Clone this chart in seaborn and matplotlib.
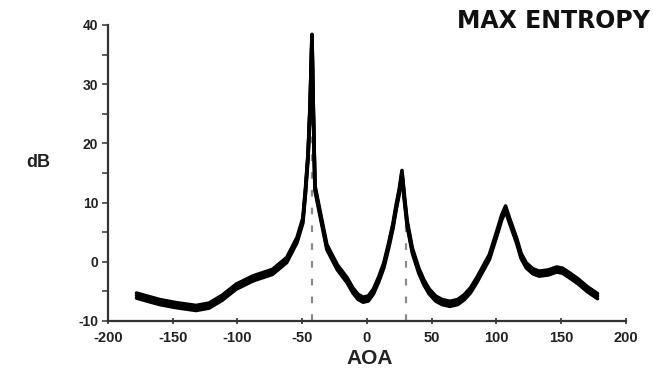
import matplotlib
matplotlib.use("Agg")
import matplotlib.pyplot as plt
import matplotlib.patheffects as pe
import seaborn as sns
import pandas as pd

# Maximum-entropy spatial spectrum (dB) versus angle of arrival (degrees)
aoa = [-178, -170, -160, -148, -132, -122, -112, -101, -88, -73, -62, -54,
       -49.5, -47.5, -45.5, -44, -42.5, -41.5, -40.2, -36.3, -31, -23, -15.4,
       -11, -7, -3, 1, 5, 9, 13, 17, 20, 22.5, 25, 27, 29, 31, 35,
       40, 44, 48, 53, 58, 64, 70, 75, 80, 85, 90, 94.5, 101, 104, 107, 110,
       115.5, 119, 123, 128, 133, 140, 146.5, 151, 156.5, 163, 170, 178]
db = [-5.7, -6.2, -6.8, -7.3, -7.8, -7.4, -6.1, -4.2, -2.8, -1.7, 0.3, 3.7,
      7.0, 12.0, 18.0, 26.0, 38.0, 26.0, 12.5, 8.2, 2.5, -0.9, -3.1,
      -4.8, -5.9, -6.4, -6.2, -5.0, -3.0, -0.6, 3.0, 6.0, 9.2, 12.0, 15.0, 10.5, 6.5, 1.9,
      -1.5, -3.5, -5.0, -6.2, -6.8, -7.1, -6.8, -6.0, -4.8, -3.0, -1.0, 0.8, 5.3, 7.5, 9.0, 7.0,
      3.6, 1.0, -0.6, -1.6, -2.0, -1.8, -1.3, -1.5, -2.3, -3.3, -4.6, -5.8]

# True source directions, marked by dashed lines
source_aoa = [-42.5, 30]
source_top = [38, 8]

x_ticks = [-200, -150, -100, -50, 0, 50, 100, 150, 200]
y_ticks = [-10, 0, 10, 20, 30, 40]
y_minor = [-5, 5, 15, 25, 35]

sns.set_theme(style="white")
plt.rcParams["font.family"] = ["Liberation Sans", "DejaVu Sans"]
plt.rcParams["axes.unicode_minus"] = False

fig = plt.figure(figsize=(6.53, 3.71), dpi=100)
ax = fig.add_axes([108 / 653, 1 - 321 / 371, 518 / 653, 296 / 371])

df = pd.DataFrame({"AOA": aoa, "dB": db})

ax.vlines(source_aoa, -10, source_top, colors="#8a8a8a", linestyles=(0, (3, 5)),
          linewidth=1.6, zorder=1)

sns.lineplot(data=df, x="AOA", y="dB", ax=ax, color="black", linewidth=2.6,
             sort=False, estimator=None, zorder=3,
             path_effects=[pe.Stroke(offset=(0, 1.8), linewidth=2.6, foreground="black"),
                           pe.Stroke(offset=(0, -1.8), linewidth=2.6, foreground="black"),
                           pe.Normal()])

ax.set_xlim(-200, 200)
ax.set_ylim(-10, 40)
ax.set_xticks(x_ticks)
ax.set_xticklabels([str(v) for v in x_ticks])
ax.set_yticks(y_ticks)
ax.set_yticklabels([str(v) for v in y_ticks])
ax.set_yticks(y_minor, minor=True)

for side in ("top", "right"):
    ax.spines[side].set_visible(False)
for side in ("left", "bottom"):
    ax.spines[side].set_color("#333333")
    ax.spines[side].set_linewidth(1.6)

ax.tick_params(axis="y", which="both", direction="out", length=4, width=1.2,
               color="#444444", left=True, labelsize=10, pad=3)
ax.tick_params(axis="x", which="both", direction="inout", length=4, width=1.2,
               color="#333333", bottom=True, labelsize=10.5, pad=5)
for lab in ax.get_xticklabels() + ax.get_yticklabels():
    lab.set_fontweight("bold")
    lab.set_color("#222222")

ax.set_xlabel("AOA", fontsize=15, fontweight="bold", color="#222222", va="center")
ax.xaxis.set_label_coords(0.506, -0.125)
ax.set_ylabel("dB", rotation=0, fontsize=13, fontweight="bold", color="#222222",
              ha="center", va="center")
ax.yaxis.set_label_coords(-0.135, 0.534)

fig.text(650 / 653, 1 - 21 / 371, "MAX ENTROPY", ha="right", va="center",
         fontsize=17, fontweight="bold", color="#111111", family="DejaVu Sans")

fig.savefig("out.png", dpi=100, facecolor="white")
